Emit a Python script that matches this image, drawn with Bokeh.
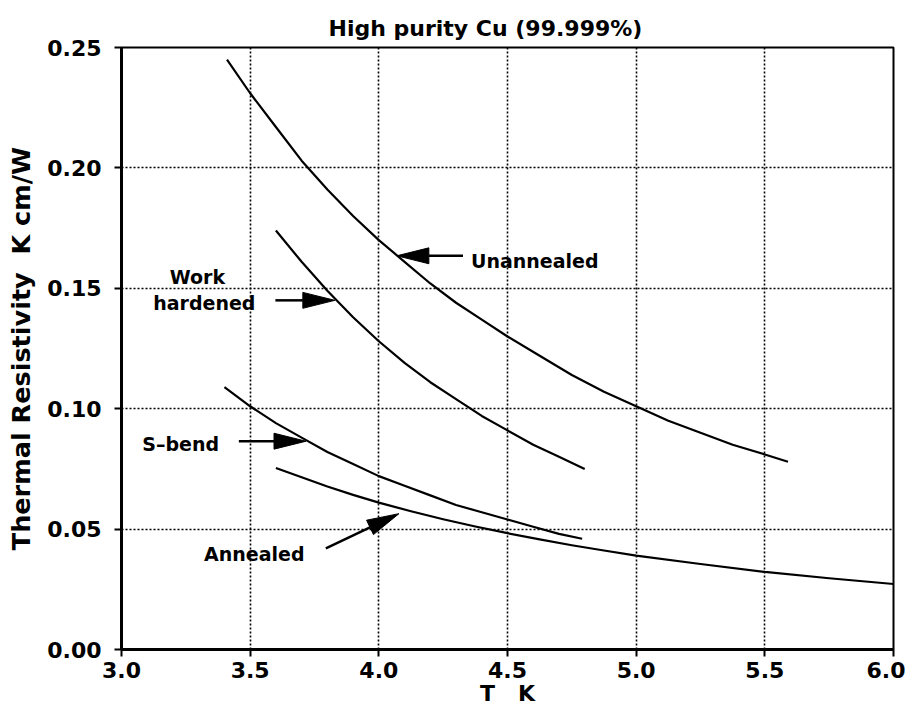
import numpy as np
from bokeh.plotting import figure
from bokeh.models import FixedTicker, NumeralTickFormatter, Range1d, Label
from bokeh.embed import file_html
from bokeh.resources import INLINE

FONT = "DejaVu Sans"

title_text = "High purity Cu (99.999%)"
x_label = "T\u00a0\u00a0\u00a0K"
y_label = "Thermal Resistivity\u00a0\u00a0K cm/W"
x_ticks = [3.0, 3.5, 4.0, 4.5, 5.0, 5.5, 6.0]
y_ticks = [0.00, 0.05, 0.10, 0.15, 0.20, 0.25]

unannealed_T = [3.41, 3.5, 3.6, 3.7, 3.8, 3.9, 4.0, 4.1, 4.2, 4.3, 4.4, 4.5, 4.625, 4.75, 4.875, 5.0, 5.125, 5.25, 5.375, 5.5, 5.59]
unannealed_R = [0.245, 0.231, 0.217, 0.203, 0.191, 0.180, 0.170, 0.161, 0.152, 0.144, 0.137, 0.130, 0.122, 0.114, 0.107, 0.101, 0.095, 0.090, 0.085, 0.081, 0.078]

work_T = [3.60, 3.7, 3.8, 3.9, 4.0, 4.1, 4.2, 4.3, 4.4, 4.5, 4.6, 4.7, 4.8]
work_R = [0.174, 0.161, 0.149, 0.138, 0.128, 0.119, 0.111, 0.104, 0.097, 0.091, 0.085, 0.080, 0.075]

sbend_T = [3.40, 3.5, 3.6, 3.7, 3.8, 3.9, 4.0, 4.1, 4.2, 4.3, 4.4, 4.5, 4.6, 4.7, 4.79]
sbend_R = [0.109, 0.101, 0.094, 0.088, 0.082, 0.077, 0.072, 0.068, 0.064, 0.060, 0.057, 0.054, 0.051, 0.048, 0.046]

annealed_T = [3.6, 3.7, 3.8, 3.9, 4.0, 4.125, 4.25, 4.375, 4.5, 4.625, 4.75, 4.875, 5.0, 5.25, 5.5, 5.75, 6.0]
annealed_R = [0.0754, 0.0715, 0.0677, 0.0642, 0.061, 0.0574, 0.0541, 0.0511, 0.0483, 0.0457, 0.0433, 0.0411, 0.039, 0.0355, 0.0322, 0.0296, 0.0272]

# annotations: text lines (x, y, text, align)
texts = [
    (4.358, 0.1614, "Unannealed", "left"),
    (3.295, 0.1545, "Work", "center"),
    (3.322, 0.1437, "hardened", "center"),
    (3.230, 0.0853, "S\u2013bend", "center"),
    (3.516, 0.0395, "Annealed", "center"),
]
# arrows: (tail_x, tail_y, tip_x, tip_y)
arrows = [
    (4.327, 0.1635, 4.070, 0.1635),
    (3.598, 0.1450, 3.829, 0.1450),
    (3.456, 0.0865, 3.717, 0.0865),
    (3.794, 0.0420, 4.078, 0.0564),
]

W, H = 905, 708
LEFT, RIGHT, TOP, BOTTOM = 121, 12, 47, 56
p = figure(width=W, height=H, output_backend="svg", toolbar_location=None,
           x_range=Range1d(3.0, 6.0), y_range=Range1d(0.0, 0.25),
           min_border_left=LEFT, min_border_right=RIGHT,
           min_border_top=TOP, min_border_bottom=BOTTOM)

p.title.text = title_text
p.title.text_font = FONT
p.title.text_font_style = "bold"
p.title.text_font_size = "22px"
p.title.text_color = "black"
p.title.align = "left"
p.title.offset = 207
p.title.standoff = 13

p.outline_line_color = "black"
p.outline_line_width = 2
p.outline_line_alpha = 1

for ax in (p.xaxis[0], p.yaxis[0]):
    ax.axis_line_width = 3
    ax.axis_line_color = "black"
    ax.major_tick_line_width = 2
    ax.major_tick_line_color = "black"
    ax.major_tick_out = 7
    ax.major_tick_in = 0
    ax.minor_tick_line_color = None
    ax.major_label_text_font = FONT
    ax.major_label_text_font_style = "bold"
    ax.major_label_text_font_size = "22px"
    ax.major_label_text_color = "black"
    ax.axis_label_text_font = FONT
    ax.axis_label_text_font_style = "bold"
    ax.axis_label_text_color = "black"

p.xaxis.ticker = FixedTicker(ticks=x_ticks)
p.yaxis.ticker = FixedTicker(ticks=y_ticks)
p.xaxis.formatter = NumeralTickFormatter(format="0.0")
p.yaxis.formatter = NumeralTickFormatter(format="0.00")
p.xaxis.axis_label = x_label
p.yaxis.axis_label = y_label
p.xaxis.axis_label_text_font_size = "22px"
p.yaxis.axis_label_text_font_size = "25.5px"
p.xaxis.major_label_standoff = 5
p.yaxis.major_label_standoff = 13
p.xaxis.axis_label_standoff = 0
p.yaxis.axis_label_standoff = 8

for g in (p.xgrid[0], p.ygrid[0]):
    g.ticker = FixedTicker(ticks=x_ticks if g is p.xgrid[0] else y_ticks)
    g.grid_line_color = "black"
    g.grid_line_width = 1.6
    g.grid_line_dash = "2 2"
    g.grid_line_alpha = 1

for xs, ys in ((unannealed_T, unannealed_R), (work_T, work_R),
               (sbend_T, sbend_R), (annealed_T, annealed_R)):
    p.line(xs, ys, line_color="black", line_width=2.2, line_join="round")

for x, y, t, al in texts:
    p.add_layout(Label(x=x, y=y, text=t, text_font=FONT, text_font_style="bold",
                       text_font_size="19px", text_align=al, text_baseline="middle",
                       text_color="black"))

# arrow shafts and filled heads, computed in pixel space then mapped back to data
kx = (W - LEFT - RIGHT) / 3.0          # px per K
ky = (H - TOP - BOTTOM) / 0.25         # px per unit resistivity
head_len, head_half = 32, 8
shaft_x0, shaft_x1, shaft_y0, shaft_y1 = [], [], [], []
head_xs, head_ys = [], []
for sx, sy, tx, ty in arrows:
    dx, dy = (sx - tx) * kx, (sy - ty) * ky
    n = np.hypot(dx, dy)
    ux, uy = dx / n, dy / n
    bx, by = tx + ux * head_len / kx, ty + uy * head_len / ky
    px_, py_ = -uy, ux
    head_xs.append([tx, bx + px_ * head_half / kx, bx - px_ * head_half / kx])
    head_ys.append([ty, by + py_ * head_half / ky, by - py_ * head_half / ky])
    shaft_x0.append(sx); shaft_y0.append(sy); shaft_x1.append(bx); shaft_y1.append(by)

p.segment(shaft_x0, shaft_y0, shaft_x1, shaft_y1, line_color="black", line_width=2.5)
p.patches(head_xs, head_ys, fill_color="black", line_color="black", line_width=1)

open("out.html", "w").write(file_html(p, INLINE))
